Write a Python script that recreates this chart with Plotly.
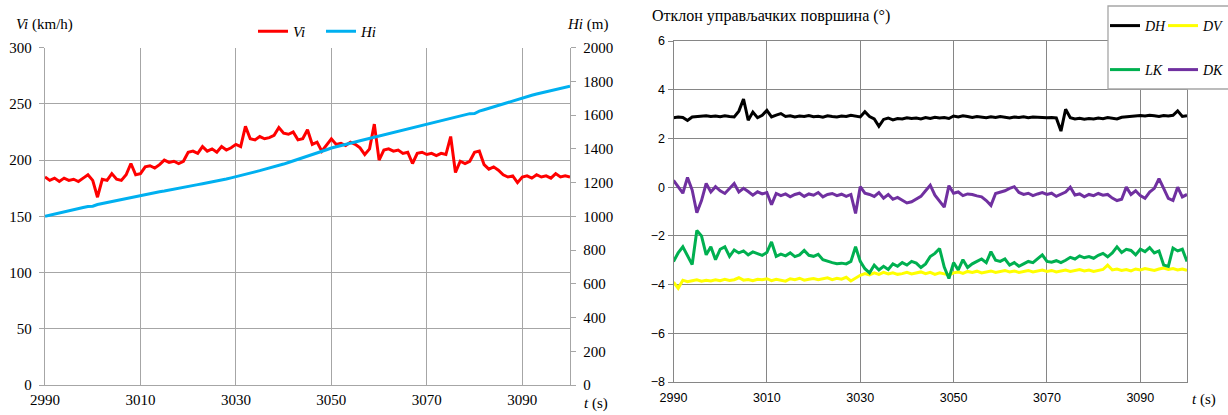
import plotly.graph_objects as go

# time axis (s)
t = list(range(2990, 3101))

# airspeed Vi (km/h)
vi = [185, 182, 184, 181, 184, 182, 183, 181, 184, 187,
      182, 167, 183, 182, 188, 183, 182, 187, 197, 187,
      188, 194, 195, 193, 196, 200, 198, 199, 197, 199,
      207, 208, 206, 212, 208, 210, 207, 212, 209, 211,
      214, 212, 230, 219, 218, 221, 219, 220, 222, 229,
      224, 223, 225, 218, 219, 227, 214, 216, 208, 213,
      219, 214, 215, 213, 216, 214, 211, 205, 210, 232,
      200, 209, 210, 208, 209, 206, 207, 197, 206, 207,
      205, 206, 204, 206, 205, 221, 189, 199, 197, 199,
      207, 208, 196, 192, 194, 191, 187, 185, 186, 180,
      185, 186, 184, 187, 185, 186, 184, 188, 185, 186, 185]

# altitude Hi (m)
hi = [1000, 1007, 1013, 1020, 1026, 1033, 1039, 1046, 1052, 1058,
      1060, 1070, 1076, 1082, 1089, 1095, 1101, 1107, 1112, 1119,
      1125, 1130, 1136, 1141, 1146, 1150, 1156, 1161, 1166, 1171,
      1177, 1186, 1188, 1193, 1198, 1204, 1209, 1215, 1221, 1228,
      1236, 1243, 1250, 1257, 1264, 1271, 1278, 1286, 1294, 1302,
      1310, 1319, 1328, 1337, 1346, 1355, 1364, 1374, 1384, 1395,
      1405, 1413, 1420, 1427, 1434, 1441, 1448, 1455, 1462, 1469,
      1476, 1483, 1490, 1497, 1504, 1511, 1518, 1525, 1532, 1539,
      1546, 1553, 1560, 1567, 1574, 1581, 1588, 1595, 1602, 1609,
      1610, 1624, 1632, 1641, 1649, 1658, 1667, 1676, 1685, 1694,
      1703, 1711, 1718, 1725, 1732, 1739, 1746, 1753, 1760, 1766, 1772]

# control surface deflections (deg)
dh = [2.85, 2.88, 2.86, 2.74, 2.88, 2.90, 2.89, 2.93, 2.90, 2.92,
      2.89, 2.93, 2.90, 2.88, 3.12, 3.62, 2.75, 3.08, 2.85, 2.95,
      3.15, 2.88, 2.96, 3.02, 2.90, 2.93, 2.88, 2.92, 2.90, 2.94,
      2.89, 2.91, 2.87, 2.93, 2.90, 2.88, 2.92, 2.90, 2.95, 2.93,
      2.88, 3.10, 2.90, 2.80, 2.50, 2.78, 2.84, 2.76, 2.82, 2.80,
      2.85, 2.82, 2.84, 2.80, 2.86, 2.82, 2.87, 2.84, 2.86, 2.82,
      2.92, 2.88, 2.93, 2.90, 2.86, 2.90, 2.87, 2.85, 2.89, 2.86,
      2.90, 2.87, 2.84, 2.88, 2.86, 2.89, 2.85, 2.88, 2.86, 2.87,
      2.85, 2.86, 2.84, 2.30, 3.20, 2.85, 2.80, 2.83, 2.79, 2.82,
      2.80, 2.84, 2.81, 2.86, 2.83, 2.80, 2.87, 2.88, 2.92, 2.90,
      2.94, 2.92, 2.95, 2.93, 2.90, 2.94, 2.92, 2.95, 3.13, 2.90, 2.93]

dv = [-3.90, -4.15, -3.82, -3.88, -3.84, -3.80, -3.86, -3.82, -3.85, -3.80,
      -3.84, -3.78, -3.83, -3.80, -3.72, -3.82, -3.79, -3.84, -3.78, -3.80,
      -3.76, -3.84, -3.78, -3.82, -3.86, -3.76, -3.80, -3.74, -3.82, -3.78,
      -3.75, -3.80, -3.76, -3.72, -3.80, -3.74, -3.78, -3.70, -3.85, -3.72,
      -3.62, -3.55, -3.60, -3.52, -3.58, -3.50, -3.56, -3.52, -3.58, -3.55,
      -3.50, -3.56, -3.52, -3.48, -3.55, -3.50, -3.58, -3.52, -3.56, -3.60,
      -3.52, -3.48, -3.54, -3.46, -3.50, -3.45, -3.52, -3.48, -3.44, -3.50,
      -3.46, -3.42, -3.48, -3.44, -3.50, -3.46, -3.42, -3.48, -3.44, -3.40,
      -3.46, -3.42, -3.48, -3.44, -3.40, -3.46, -3.42, -3.38, -3.44, -3.40,
      -3.46, -3.42, -3.38, -3.20, -3.40, -3.36, -3.42, -3.38, -3.44, -3.36,
      -3.40, -3.34, -3.38, -3.42, -3.36, -3.32, -3.38, -3.34, -3.40, -3.36, -3.42]

lk = [-3.05, -2.70, -2.45, -2.85, -3.18, -1.78, -2.00, -2.78, -2.45, -2.98,
      -2.55, -2.45, -2.84, -2.58, -2.70, -2.62, -2.78, -2.66, -2.72, -2.80,
      -2.68, -2.25, -2.84, -2.75, -2.82, -2.70, -2.85, -2.78, -2.60, -2.80,
      -2.84, -2.76, -2.98, -3.05, -3.10, -3.14, -3.12, -3.15, -3.05, -2.45,
      -3.05, -3.35, -3.52, -3.20, -3.40, -3.25, -3.38, -3.15, -3.25, -3.10,
      -3.20, -3.05, -3.12, -3.30, -3.15, -2.85, -2.72, -2.52, -3.28, -3.75,
      -3.10, -3.40, -2.98, -3.30, -3.15, -3.05, -2.95, -3.10, -2.65, -3.00,
      -3.05, -2.95, -3.20, -3.10, -3.25, -3.15, -3.05, -3.10, -2.95, -2.78,
      -3.05, -3.08, -3.02, -3.10, -3.00, -2.88, -2.95, -2.82, -2.90, -2.85,
      -2.92, -2.80, -2.72, -2.86, -2.70, -2.45, -2.68, -2.55, -2.60, -2.78,
      -2.55, -2.65, -2.48, -2.70, -2.62, -3.20, -3.25, -2.50, -2.62, -2.55, -3.05]

dk = [0.28, 0.00, -0.25, 0.40, -0.12, -1.05, -0.55, 0.15, -0.20, 0.02,
      -0.15, -0.26, -0.05, 0.15, -0.20, -0.05, -0.18, -0.33, -0.19, -0.28,
      -0.22, -0.72, -0.26, -0.35, -0.28, -0.40, -0.30, -0.25, -0.38, -0.28,
      -0.33, -0.22, -0.40, -0.30, -0.26, -0.35, -0.29, -0.38, -0.30, -1.08,
      0.02, -0.25, -0.30, -0.38, -0.22, -0.45, -0.30, -0.50, -0.42, -0.55,
      -0.65, -0.60, -0.50, -0.38, -0.15, 0.08, -0.33, -0.60, -0.82, 0.06,
      -0.25, -0.20, -0.35, -0.28, -0.30, -0.36, -0.40, -0.55, -0.75, -0.26,
      -0.20, -0.15, -0.05, 0.02, -0.22, -0.30, -0.25, -0.35, -0.28, -0.22,
      -0.30, -0.25, -0.38, -0.30, -0.20, 0.00, -0.32, -0.28, -0.40, -0.30,
      -0.35, -0.26, -0.33, -0.30, -0.45, -0.55, -0.50, 0.00, -0.30, -0.15,
      -0.35, -0.46, -0.20, -0.05, 0.35, -0.05, -0.46, -0.55, 0.00, -0.40, -0.30]

x_ticks = [2990, 3010, 3030, 3050, 3070, 3090]

W, H = 1228, 415
SERIF = "Liberation Serif"
SANS = "Liberation Sans"


def px_x(p):
    return p / W


def px_y(p):
    return 1 - p / H


serif15 = dict(family=SERIF, size=15, color="black")
serif14 = dict(family=SERIF, size=14, color="black")
sans12 = dict(family=SANS, size=12.5, color="black")


def key_box(left, top, font):
    # one single-entry legend per series key
    return dict(orientation="h", x=px_x(left), y=px_y(top), xanchor="left", yanchor="top",
                bgcolor="rgba(0,0,0,0)", borderwidth=0, font=font,
                itemwidth=30, entrywidth=0, traceorder="normal")


fig = go.Figure()

fig.add_trace(go.Scatter(x=t, y=vi, name="<i>Vi</i>", mode="lines",
                         line=dict(color="#ff0000", width=3),
                         xaxis="x", yaxis="y", legend="legend"))
fig.add_trace(go.Scatter(x=t, y=hi, name="<i>Hi</i>", mode="lines",
                         line=dict(color="#00b0f0", width=3),
                         xaxis="x", yaxis="y2", legend="legend2"))

right_series = [
    ("DH", dh, "#000000", "legend3"),
    ("DV", dv, "#ffff00", "legend4"),
    ("LK", lk, "#00b050", "legend5"),
    ("DK", dk, "#7030a0", "legend6"),
]
for name, vals, color, lg in right_series:
    fig.add_trace(go.Scatter(x=t, y=vals, name=f"<i>{name}</i>", mode="lines",
                             line=dict(color=color, width=3),
                             xaxis="x2", yaxis="y3", legend=lg))

grid_l = "#a6a6a6"
grid_r = "#868686"

left_dom_x = [px_x(45), px_x(570)]
left_dom_y = [px_y(385), px_y(47.7)]
right_dom_x = [px_x(673.5), px_x(1187)]
right_dom_y = [px_y(382), px_y(41)]

fig.update_layout(
    width=W, height=H,
    margin=dict(l=0, r=0, t=0, b=0, autoexpand=False),
    paper_bgcolor="white", plot_bgcolor="white",
    showlegend=True,
    xaxis=dict(domain=left_dom_x, range=[2990, 3100], tickvals=x_ticks,
               showgrid=True, gridcolor=grid_l, gridwidth=1.3,
               showline=True, linecolor=grid_l, linewidth=1.3,
               ticks="inside", ticklen=5, tickcolor=grid_l,
               ticklabelstandoff=1, tickfont=serif15,
               zeroline=False, anchor="y"),
    yaxis=dict(domain=left_dom_y, range=[0, 300], dtick=50,
               showgrid=True, gridcolor=grid_l, gridwidth=1.3,
               showline=True, linecolor=grid_l, linewidth=1.3,
               ticks="outside", ticklen=5, tickcolor=grid_l,
               ticklabelstandoff=4, tickfont=serif15,
               zeroline=False, anchor="x"),
    yaxis2=dict(overlaying="y", side="right", range=[0, 2000], dtick=200,
                showgrid=False, showline=True, linecolor=grid_l, linewidth=1.3,
                ticks="outside", ticklen=5, tickcolor=grid_l,
                ticklabelstandoff=4, tickfont=serif15,
                zeroline=False, anchor="x"),
    xaxis2=dict(domain=right_dom_x, range=[2990, 3100], tickvals=x_ticks,
                showgrid=True, gridcolor=grid_r, gridwidth=1,
                showline=True, linecolor=grid_r, linewidth=1, mirror=True,
                ticks="", ticklabelstandoff=4, tickfont=sans12,
                zeroline=False, anchor="y3"),
    yaxis3=dict(domain=right_dom_y, range=[-8, 6], dtick=2,
                showgrid=True, gridcolor=grid_r, gridwidth=1,
                showline=True, linecolor=grid_r, linewidth=1, mirror=True,
                ticks="outside", ticklen=5, tickcolor=grid_r,
                tickfont=sans12,
                zeroline=False, anchor="x2"),
    legend=key_box(253, 15, serif15),
    legend2=key_box(321, 15, serif15),
    legend3=key_box(1105, 10, serif14),
    legend4=key_box(1163, 10, serif14),
    legend5=key_box(1105, 54, serif14),
    legend6=key_box(1163, 54, serif14),
    shapes=[dict(type="rect", xref="paper", yref="paper",
                 x0=px_x(1108), x1=px_x(1240), y0=px_y(89), y1=px_y(6),
                 fillcolor="white", line=dict(color="#a6a6a6", width=1.3),
                 layer="above")],
    annotations=[
        dict(text="<i>Vi</i> (km/h)", x=px_x(14), y=px_y(25), xref="paper", yref="paper",
             xanchor="left", yanchor="middle", showarrow=False, font=serif15),
        dict(text="<i>Hi</i> (m)", x=px_x(565), y=px_y(25), xref="paper", yref="paper",
             xanchor="left", yanchor="middle", showarrow=False, font=serif15),
        dict(text="<i>t</i> (s)", x=px_x(582), y=px_y(403), xref="paper", yref="paper",
             xanchor="left", yanchor="middle", showarrow=False, font=serif15),
        dict(text="<i>t</i> (s)", x=px_x(1190), y=px_y(399), xref="paper", yref="paper",
             xanchor="left", yanchor="middle", showarrow=False, font=serif15),
        dict(text="Отклон управљачких површина (°)", x=px_x(650), y=px_y(16),
             xref="paper", yref="paper", xanchor="left", yanchor="middle",
             showarrow=False, font=dict(family=SERIF, size=16, color="black")),
    ],
)

fig.write_html("out.html")
